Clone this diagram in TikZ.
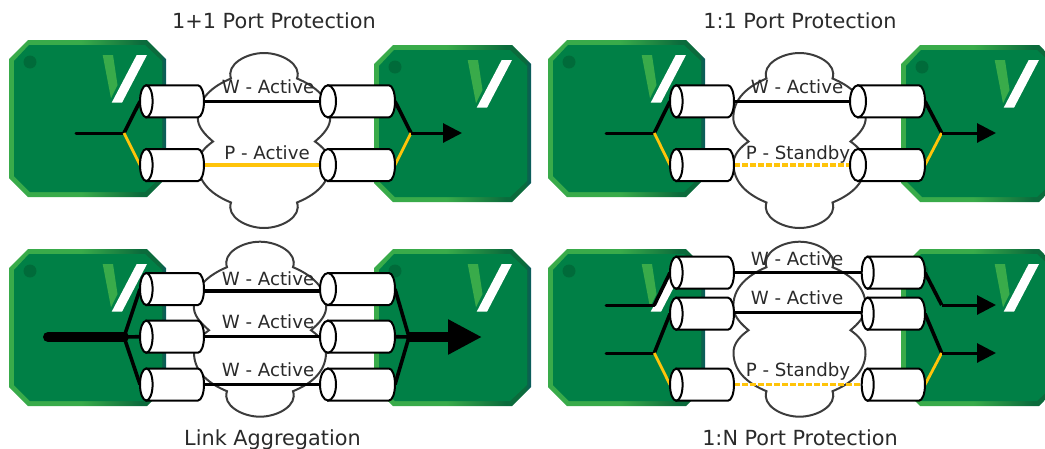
\documentclass[tikz,border=0pt]{standalone}
\usepackage{fontspec}
\setmainfont{DejaVu Sans}
\usetikzlibrary{arrows.meta}
\definecolor{devlight}{HTML}{39AB4A}
\definecolor{devdark}{HTML}{0B6B3C}
\definecolor{devteal}{HTML}{0B5A60}
\definecolor{devfill}{HTML}{008046}
\definecolor{devdot}{HTML}{006B3A}
\definecolor{wireyellow}{HTML}{FFC40A}
\definecolor{cloudline}{HTML}{3C3C3C}
\definecolor{inktext}{HTML}{2A2A2A}
\pgfdeclarehorizontalshading{devborder}{100bp}{color(0bp)=(devlight); color(25bp)=(devlight); color(48bp)=(devlight); color(67bp)=(devdark); color(73bp)=(devdark); color(75bp)=(devteal); color(100bp)=(devteal)}
\tikzset{
  cylbox/.style={inner sep=0pt,outer sep=0pt,draw=none,rectangle},
  cylline/.style={draw=black,fill=white,line width=2pt},
  cloudshape/.style={draw=cloudline,fill=white,line width=2pt},
  wirethin/.style={draw=black,line width=3pt,line cap=round,line join=round},
  wirethick/.style={draw=black,line width=3.6pt,line join=round},
  wireyel/.style={draw=wireyellow,line width=2.8pt},
  linkblack/.style={draw=black,line width=3.2pt},
  linkyel/.style={draw=wireyellow,line width=3.2pt},
  linkdash/.style={draw=wireyellow,line width=3.2pt,dash pattern=on 5.5pt off 2.5pt},
  arrowthin/.style={draw=black,line width=3pt,-{Triangle[length=19pt,width=19pt]}},
  arrowfat/.style={draw=black,line width=10pt,-{Triangle[length=34pt,width=33pt]}},
  fatin/.style={draw=black,line width=10pt,line cap=round},
  titlelab/.style={anchor=base,inner sep=0pt,text=inktext,font=\fontsize{20.8}{24}\selectfont},
  linklab/.style={anchor=base,inner sep=0pt,text=inktext,font=\fontsize{18.2}{22}\selectfont},
}
\newcommand{\devicebox}[2]{%
  \begin{scope}[shift={(#1,#2)}]
    \path[shading=devborder] (19,0) -- (138,0) -- (157,19) -- (157,138) -- (138,157) -- (19,157) -- (0,138) -- (0,19) -- cycle;
    \fill[devfill] (20,5) -- (136,5) -- (153,21) -- (153,136) -- (136,152) -- (21,152) -- (5,136) -- (5,21) -- cycle;
    \fill[devdot] (21,22) circle [radius=6.5pt];
    \fill[devlight] (93.7,15) -- (104,15) -- (108.5,45) -- (102,58.3) -- cycle;
    \fill[white] (127.7,15) -- (138,15) -- (113,62.7) -- (102.7,62.7) -- cycle;
  \end{scope}}
\newcommand{\cloudat}[2]{%
  \begin{scope}[shift={(#1,#2)}]
    \path[cloudshape] (0,-87.5)
      .. controls (18,-87.5) and (38,-76) .. (33,-62)
      .. controls (50,-55) and (68,-42) .. (66,-20)
      .. controls (65,-12) and (58,-5) .. (51,1)
      .. controls (58,6) and (67,14) .. (66,25)
      .. controls (65,44) and (50,55) .. (33,62)
      .. controls (38,76) and (18,87.5) .. (0,87.5)
      .. controls (-18,87.5) and (-38,76) .. (-33,62)
      .. controls (-50,55) and (-65,44) .. (-66,25)
      .. controls (-67,14) and (-58,6) .. (-51,1)
      .. controls (-58,-5) and (-65,-12) .. (-66,-20)
      .. controls (-68,-42) and (-50,-55) .. (-33,-62)
      .. controls (-38,-76) and (-18,-87.5) .. (0,-87.5) -- cycle;
  \end{scope}}
% name, x left, x right, y centre, left radius
\newcommand{\cylnode}[5]{%
  \pgfmathsetmacro{\cw}{#3-#2}
  \node[cylbox,minimum width=\cw pt,minimum height=32pt] (#1) at ({(#2+#3)/2},#4) {};}
\newcommand{\cyldraw}[5]{%
  \path[cylline] ({#2+#5},{#4-16}) -- ({#3-6},{#4-16}) arc[start angle=90,end angle=-90,x radius=6pt,y radius=16pt] -- ({#2+#5},{#4+16}) -- cycle;
  \path[cylline] ({#2+#5},#4) ellipse [x radius=#5 pt,y radius=16pt];}
\begin{document}
\begin{tikzpicture}[x=1pt,y=-1pt]
\useasboundingbox (0,0) rectangle (1045,448);
\clip (0,0) rectangle (1045,448);
% devices
\devicebox{9}{40}\devicebox{374}{45}
\devicebox{548}{40}\devicebox{901}{45}
\devicebox{9}{249}\devicebox{374}{249}
\devicebox{548}{249}\devicebox{901}{249}
% clouds
\cloudat{264}{140.5}
\cloudat{799.5}{140.5}
\cloudat{260}{329.2}
\cloudat{799.5}{329.2}
% port nodes
\cylnode{aL1}{140}{204}{101.3}{6.3}\cylnode{aL2}{140}{204}{165}{6.3}
\cylnode{aR1}{320}{395}{101.3}{8}\cylnode{aR2}{320}{395}{165}{8}
\cylnode{bL1}{670}{734}{101.3}{6.3}\cylnode{bL2}{670}{734}{165}{6.3}
\cylnode{bR1}{850}{925}{101.3}{8}\cylnode{bR2}{850}{925}{165}{8}
\cylnode{cL1}{140}{204}{289}{6.3}\cylnode{cL2}{140}{204}{336.7}{6.3}\cylnode{cL3}{140}{204}{384.5}{6.3}
\cylnode{cR1}{320}{395}{289}{8}\cylnode{cR2}{320}{395}{336.7}{8}\cylnode{cR3}{320}{395}{384.5}{8}
\cylnode{dL1}{670}{734}{272.7}{6.3}\cylnode{dL2}{670}{734}{313.7}{6.3}\cylnode{dL3}{670}{734}{384.7}{6.3}
\cylnode{dR1}{861.7}{925}{272.7}{6}\cylnode{dR2}{861.7}{925}{313.7}{6}\cylnode{dR3}{861.7}{925}{384.7}{6}
% free ends and junctions
\coordinate (aIn) at (76,133);\coordinate (aJ) at (124,133);\coordinate (aK) at (411,133);\coordinate (aOut) at (462,133);
\coordinate (bIn) at (606,133);\coordinate (bJ) at (654.3,133);\coordinate (bK) at (941.7,133);\coordinate (bOut) at (996,133);
\coordinate (cIn) at (48,337);\coordinate (cJ) at (124,337);\coordinate (cK) at (409,337);\coordinate (cOut) at (482,337);
\coordinate (dInA) at (606,305);\coordinate (dJA) at (654.3,305);\coordinate (dKA) at (941.7,305);\coordinate (dOutA) at (996,305);
\coordinate (dInB) at (606,353);\coordinate (dJB) at (654.3,353);\coordinate (dKB) at (941.7,353);\coordinate (dOutB) at (996,353);
% panel A wires
\draw[wirethin] (aIn) -- (aJ);
\draw[wirethick] (aJ) -- (aL1.west);
\draw[wireyel] (aJ) -- (aL2.west);
\draw[wirethick] (aR1.east) -- (aK);
\draw[wireyel] (aR2.east) -- (aK);
\draw[arrowthin] (aK) -- (aOut);
\draw[linkblack] (aL1.east) -- (aR1.west);
\draw[linkyel] (aL2.east) -- (aR2.west);
% panel B wires
\draw[wirethin] (bIn) -- (bJ);
\draw[wirethick] (bJ) -- (bL1.west);
\draw[wireyel] (bJ) -- (bL2.west);
\draw[wirethick] (bR1.east) -- (bK);
\draw[wireyel] (bR2.east) -- (bK);
\draw[arrowthin] (bK) -- (bOut);
\draw[linkblack] (bL1.east) -- (bR1.west);
\draw[linkdash] (bL2.east) -- (bR2.west);
% panel C wires
\draw[fatin] (cIn) -- (cJ);
\draw[wirethick] (cJ) -- (cL1.west);
\draw[wirethick] (cJ) -- (cL2.west);
\draw[wirethick] (cJ) -- (cL3.west);
\draw[wirethick] (cR1.east) -- (cK);
\draw[wirethick] (cR2.east) -- (cK);
\draw[wirethick] (cR3.east) -- (cK);
\draw[arrowfat] (cK) -- (cOut);
\draw[linkblack] ([yshift=-2pt]cL1.east) -- ([yshift=-2pt]cR1.west);
\draw[linkblack] (cL2.east) -- (cR2.west);
\draw[linkblack] (cL3.east) -- (cR3.west);
% panel D wires
\draw[wirethin] (dInA) -- (dJA);
\draw[wirethick] (dJA) -- (dL1.west);
\draw[wirethin] (dInB) -- (dJB);
\draw[wirethick] (dJB) -- (dL2.west);
\draw[wireyel] (dJB) -- (dL3.west);
\draw[wirethick] (dR1.east) -- (dKA);
\draw[arrowthin] (dKA) -- (dOutA);
\draw[wirethick] (dR2.east) -- (dKB);
\draw[wireyel] (dR3.east) -- (dKB);
\draw[arrowthin] (dKB) -- (dOutB);
\draw[linkblack] (dL1.east) -- (dR1.west);
\draw[linkblack] ([yshift=1.4pt]dL2.east) -- ([yshift=1.4pt]dR2.west);
\draw[linkdash] (dL3.east) -- (dR3.west);
% port bodies
\cyldraw{aL1}{140}{204}{101.3}{6.3}\cyldraw{aL2}{140}{204}{165}{6.3}
\cyldraw{aR1}{320}{395}{101.3}{8}\cyldraw{aR2}{320}{395}{165}{8}
\cyldraw{bL1}{670}{734}{101.3}{6.3}\cyldraw{bL2}{670}{734}{165}{6.3}
\cyldraw{bR1}{850}{925}{101.3}{8}\cyldraw{bR2}{850}{925}{165}{8}
\cyldraw{cL1}{140}{204}{289}{6.3}\cyldraw{cL2}{140}{204}{336.7}{6.3}\cyldraw{cL3}{140}{204}{384.5}{6.3}
\cyldraw{cR1}{320}{395}{289}{8}\cyldraw{cR2}{320}{395}{336.7}{8}\cyldraw{cR3}{320}{395}{384.5}{8}
\cyldraw{dL1}{670}{734}{272.7}{6.3}\cyldraw{dL2}{670}{734}{313.7}{6.3}\cyldraw{dL3}{670}{734}{384.7}{6.3}
\cyldraw{dR1}{861.7}{925}{272.7}{6}\cyldraw{dR2}{861.7}{925}{313.7}{6}\cyldraw{dR3}{861.7}{925}{384.7}{6}
% link labels
\node[linklab] (laA1) at (268,93.3) {W - Active};
\node[linklab] (laA2) at (267,159.3) {P - Active};
\node[linklab] (laB1) at (797,93.3) {W - Active};
\node[linklab] (laB2) at (798,159.3) {P - Standby};
\node[linklab] (laC1) at (268,285.7) {W - Active};
\node[linklab] (laC2) at (268,328.3) {W - Active};
\node[linklab] (laC3) at (268,376.7) {W - Active};
\node[linklab] (laD1) at (797,265.7) {W - Active};
\node[linklab] (laD2) at (797,304.3) {W - Active};
\node[linklab] (laD3) at (798,376.7) {P - Standby};
% titles
\node[titlelab] (tiA) at (274,28.3) {1+1 Port Protection};
\node[titlelab] (tiB) at (800,28.3) {1:1 Port Protection};
\node[titlelab] (tiC) at (272.5,445) {Link Aggregation};
\node[titlelab] (tiD) at (800,445) {1:N Port Protection};
\end{tikzpicture}
\end{document}
